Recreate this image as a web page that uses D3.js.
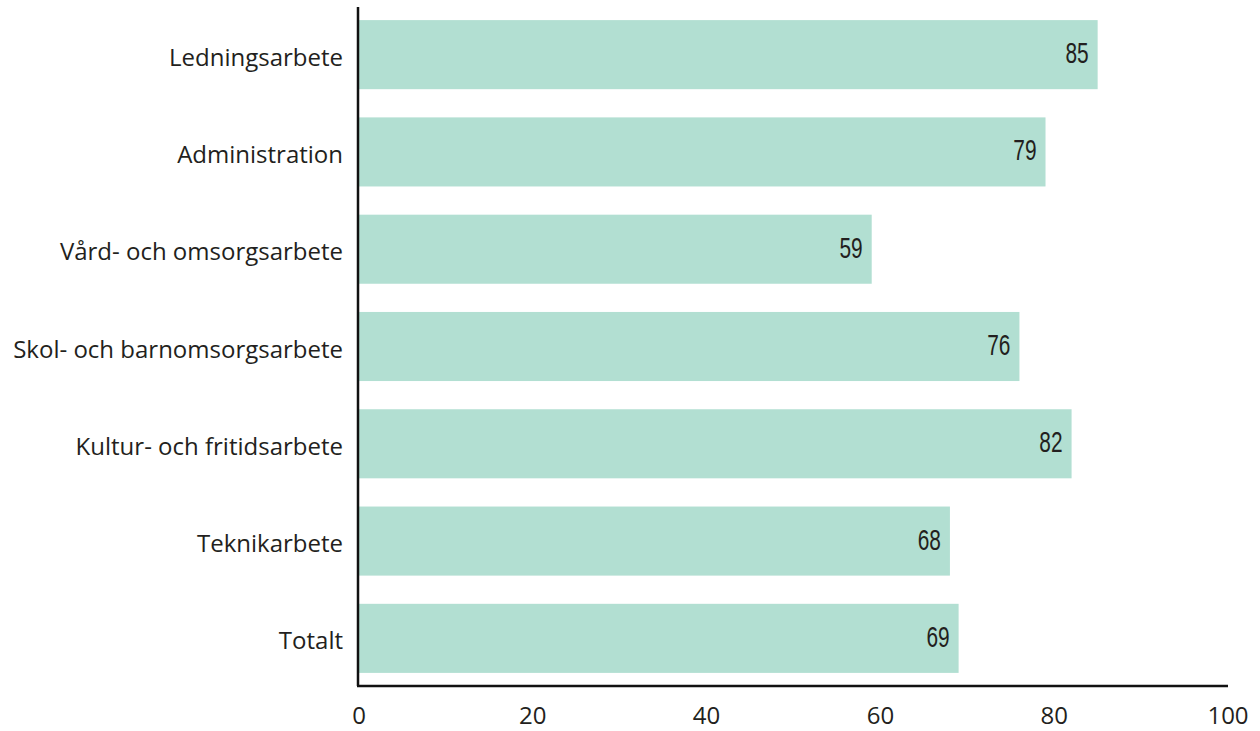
<!DOCTYPE html>
<html><head><meta charset="utf-8">
<script src="https://cdn.jsdelivr.net/npm/d3@7"></script>
<style>body{margin:0;background:#fff}svg{display:block}</style>
</head><body>
<script>
const categories = ["Ledningsarbete","Administration","Vård- och omsorgsarbete","Skol- och barnomsorgsarbete","Kultur- och fritidsarbete","Teknikarbete","Totalt"];
const values = [85,79,59,76,82,68,69];
const ticks = [0,20,40,60,80,100];

const W=1260,H=731;
const svg=d3.select("body").append("svg").attr("width",W).attr("height",H);
const x=d3.scaleLinear().domain([0,100]).range([359,1228]);
const y=d3.scaleBand().domain(categories).range([6,687]).paddingInner(0.29).paddingOuter(0.145);
const txt="#231f20";
svg.selectAll("rect.bar").data(values).join("rect").attr("class","bar")
  .attr("x",x(0)).attr("y",(d,i)=>y(categories[i])).attr("width",d=>x(d)-x(0)).attr("height",y.bandwidth())
  .attr("fill","#b2dfd2");
svg.selectAll("g.val").data(values).join("g").attr("class","val")
  .attr("transform",(d,i)=>`translate(${x(d)-9},${y(categories[i])+y.bandwidth()/2+8.5}) scale(0.72,1)`)
  .append("text").attr("text-anchor","end").attr("font-family","'Liberation Sans',sans-serif")
  .attr("font-size",29).attr("fill",txt).text(d=>d);
svg.selectAll("text.cat").data(categories).join("text").attr("class","cat")
  .attr("x",343).attr("y",d=>y(d)+y.bandwidth()/2+11).attr("text-anchor","end")
  .attr("font-family","'Open Sans',sans-serif").attr("font-size",24).attr("fill",txt).text(d=>d);
// axes lines
svg.append("line").attr("x1",358).attr("x2",358).attr("y1",7).attr("y2",686).attr("stroke","#111").attr("stroke-width",2.5);
svg.append("line").attr("x1",357).attr("x2",x(100)).attr("y1",686).attr("y2",686).attr("stroke","#111").attr("stroke-width",2.5);
svg.selectAll("text.tick").data(ticks).join("text").attr("class","tick")
  .attr("x",d=>x(d)).attr("y",724).attr("text-anchor","middle")
  .attr("font-family","'Open Sans',sans-serif").attr("font-size",24).attr("fill",txt).text(d=>d);
</script>
</body></html>
